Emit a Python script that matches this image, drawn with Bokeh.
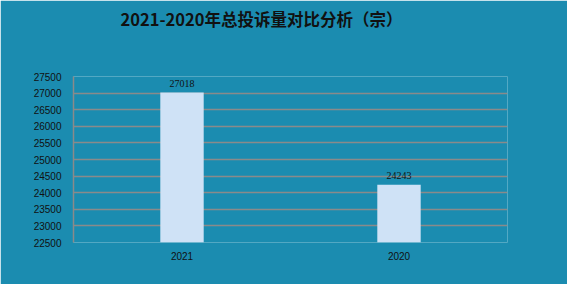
from bokeh.plotting import figure
from bokeh.models import ColumnDataSource, Range1d, FactorRange, LabelSet, Title, FixedTicker
from bokeh.embed import file_html
from bokeh.resources import INLINE

categories = ["2021", "2020"]
values = [27018, 24243]
labels = ["27018", "24243"]
y_ticks = [22500, 23000, 23500, 24000, 24500, 25000, 25500, 26000, 26500, 27000, 27500]

BG = "#1b8cb0"
src = ColumnDataSource(dict(x=categories, top=values, lab=labels))

p = figure(width=567, height=284, x_range=FactorRange(*categories),
           y_range=Range1d(22500, 27500), output_backend="svg",
           toolbar_location=None, min_border_left=73, min_border_right=60,
           min_border_top=76, min_border_bottom=42)
p.background_fill_color = BG
p.border_fill_color = BG
p.outline_line_color = None

p.vbar(x="x", top="top", bottom=22500, width=0.2, source=src,
       fill_color="#cfe2f6", line_color=None)

p.add_layout(LabelSet(x="x", y="top", text="lab", source=src, y_offset=6,
                      text_align="center", text_baseline="bottom",
                      text_font="Liberation Sans", text_font_size="10px",
                      text_color="#111111"))

p.yaxis.ticker = FixedTicker(ticks=y_ticks)
p.ygrid.ticker = FixedTicker(ticks=y_ticks)
p.ygrid.grid_line_color = "#8a8a8a"
p.ygrid.grid_line_width = 1.5
p.xgrid.grid_line_color = None

for ax in (p.xaxis, p.yaxis):
    ax.major_tick_line_color = None
    ax.minor_tick_line_color = None
    ax.major_label_text_font = "Liberation Sans"
    ax.major_label_text_font_size = "10px"
    ax.major_label_text_color = "#111111"
p.yaxis.axis_line_color = "#8a8a8a"
p.yaxis.axis_line_width = 1.5
p.xaxis.axis_line_color = None
p.yaxis.major_label_standoff = 6
p.xaxis.major_label_standoff = 3

spacer = Title(text=" ", text_font_size="1px", standoff=40)
t = Title(text="2021-2020年总投诉量对比分析（宗）", text_font="Noto Sans CJK SC",
          text_font_size="16.5px", text_font_style="bold", text_color="#111111",
          align="left", offset=47, standoff=5)
p.add_layout(spacer, "above")
p.add_layout(t, "above")
p.title = None

open("out.html", "w").write(file_html(p, INLINE))
